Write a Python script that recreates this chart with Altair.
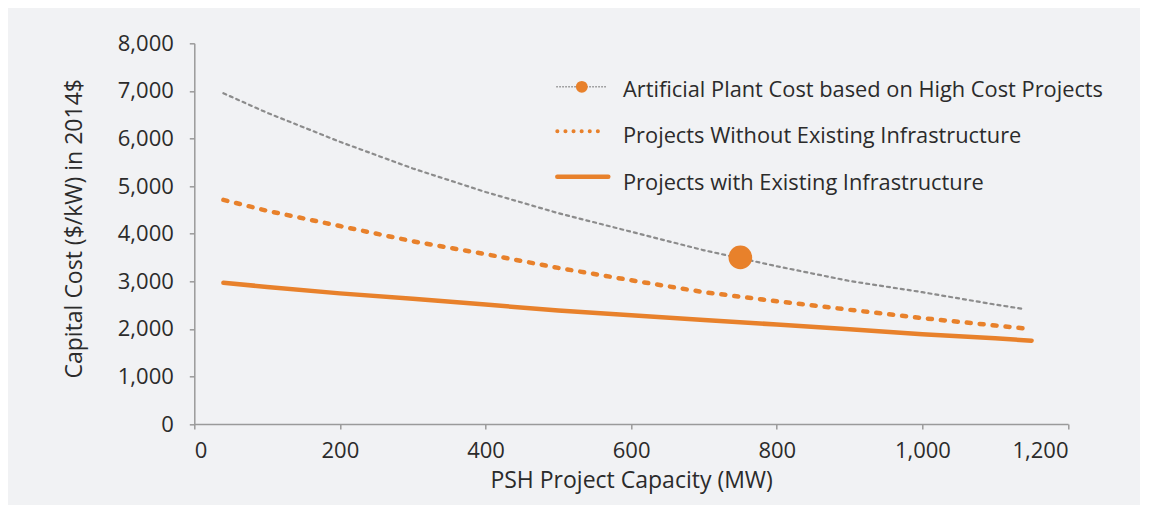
import altair as alt
import pandas as pd

# ---- data ----
mw_art = [40, 100, 200, 300, 400, 500, 600, 700, 800, 900, 1000, 1100, 1140]
cost_art = [6950, 6540, 5930, 5370, 4875, 4430, 4040, 3650, 3315, 3005, 2770, 2510, 2415]

mw_without = [40, 100, 200, 300, 400, 500, 600, 700, 800, 900, 1000, 1100, 1140]
cost_without = [4710, 4480, 4160, 3840, 3570, 3280, 3020, 2770, 2580, 2400, 2225, 2070, 2010]

mw_with = [40, 100, 200, 300, 400, 500, 600, 700, 800, 900, 1000, 1100, 1150]
cost_with = [2968, 2880, 2745, 2630, 2510, 2385, 2285, 2185, 2090, 1990, 1885, 1800, 1750]

point_mw = [750]
point_cost = [3500]

legend_labels = [
    "Artificial Plant Cost based on High Cost Projects",
    "Projects Without Existing Infrastructure",
    "Projects with Existing Infrastructure",
]

ORANGE = "#E8812B"
GRAY = "#8C8C8C"
TEXT = "#2b2b2b"
BG = "#f1f2f4"
FONT = "Open Sans"
FS_LABEL = 22
FS_TITLE = 23
FS_LEGEND = 21.8

df_art = pd.DataFrame({"mw": mw_art, "cost": cost_art})
df_without = pd.DataFrame({"mw": mw_without, "cost": cost_without})
df_with = pd.DataFrame({"mw": mw_with, "cost": cost_with})
df_pt = pd.DataFrame({"mw": point_mw, "cost": point_cost})

x_enc = alt.X(
    "mw:Q",
    scale=alt.Scale(domain=[0, 1200], nice=False),
    axis=alt.Axis(
        title="PSH Project Capacity (MW)",
        values=[0, 200, 400, 600, 800, 1000, 1200],
        format=",d",
        titleY=63,
        titleBaseline="alphabetic",
    ),
)
y_enc = alt.Y(
    "cost:Q",
    scale=alt.Scale(domain=[0, 8000], nice=False),
    axis=alt.Axis(
        title="Capital Cost ($/kW) in 2014$",
        values=[0, 1000, 2000, 3000, 4000, 5000, 6000, 7000, 8000],
        format=",d",
        titleX=-113,
        titleY=185,
        titleBaseline="alphabetic",
    ),
)

line_art = alt.Chart(df_art).mark_line(
    color=GRAY, strokeWidth=2.2, strokeDash=[3, 4], strokeCap="round"
).encode(x=x_enc, y=y_enc)

line_without = alt.Chart(df_without).mark_line(
    color=ORANGE, strokeWidth=4.5, strokeDash=[4, 9], strokeCap="round"
).encode(x="mw:Q", y="cost:Q")

line_with = alt.Chart(df_with).mark_line(
    color=ORANGE, strokeWidth=4.5, strokeCap="round"
).encode(x="mw:Q", y="cost:Q")

pt = alt.Chart(df_pt).mark_point(
    filled=True, shape="circle", size=560, color=ORANGE, opacity=1
).encode(x="mw:Q", y="cost:Q")

# ---- custom legend (decoration, pixel placed) ----
one = alt.Data(values=[{}])
leg_layers = []
leg_y = [43.5, 88, 133.5]
txt_y = [54, 100, 146.7]
leg_layers.append(
    alt.Chart(one).mark_rule(color=GRAY, strokeWidth=1.5, strokeDash=[1.5, 1.5]).encode(
        x=alt.value(362), x2=alt.value(412), y=alt.value(leg_y[0])
    )
)
leg_layers.append(
    alt.Chart(one).mark_point(filled=True, shape="circle", size=140, color=ORANGE, opacity=1).encode(
        x=alt.value(387.5), y=alt.value(leg_y[0])
    )
)
leg_layers.append(
    alt.Chart(one).mark_rule(color=ORANGE, strokeWidth=4, strokeDash=[0.1, 8], strokeCap="round").encode(
        x=alt.value(363), x2=alt.value(410), y=alt.value(leg_y[1])
    )
)
leg_layers.append(
    alt.Chart(one).mark_rule(color=ORANGE, strokeWidth=4.5, strokeCap="round").encode(
        x=alt.value(363), x2=alt.value(414), y=alt.value(leg_y[2])
    )
)
for lbl, ty in zip(legend_labels, txt_y):
    leg_layers.append(
        alt.Chart(one).mark_text(
            align="left", baseline="alphabetic", font=FONT, fontSize=FS_LEGEND, color=TEXT
        ).encode(x=alt.value(428.7), y=alt.value(ty), text=alt.value(lbl))
    )

chart = alt.layer(line_art, line_without, line_with, pt, *leg_layers).properties(
    width=873.7,
    height=380.7,
    padding={"left": 186.3, "top": 35.3, "right": 72, "bottom": 81},
    autosize="none",
    background=BG,
).configure_view(stroke=None).configure_axis(
    grid=False,
    domainColor="#9a9a9a",
    domainWidth=1.5,
    tickColor="#9a9a9a",
    tickWidth=1.5,
    tickSize=5,
    labelFont=FONT,
    labelFontSize=FS_LABEL,
    labelColor=TEXT,
    titleFont=FONT,
    titleFontSize=FS_TITLE,
    titleFontWeight="normal",
    titleColor=TEXT,
).configure_axisX(labelPadding=11).configure_axisY(labelPadding=16)

chart.save("out.html", embed_options={"renderer": "svg", "actions": False})
